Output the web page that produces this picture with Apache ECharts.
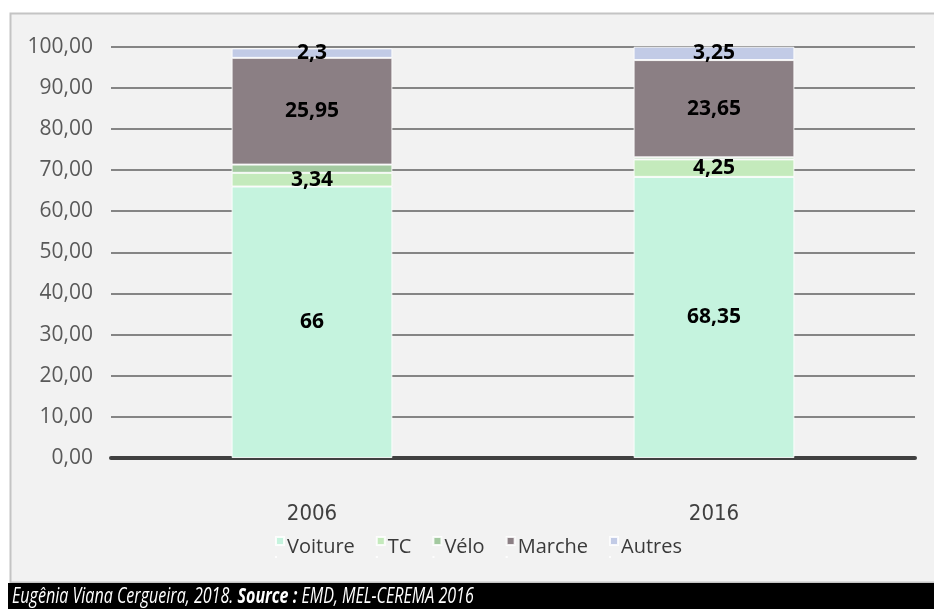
<!DOCTYPE html>
<html>
<head>
<meta charset="utf-8">
<script src="https://cdn.jsdelivr.net/npm/echarts@6/dist/echarts.min.js"></script>
<style>
  html, body { margin: 0; padding: 0; background: #ffffff; }
  #chart { width: 934px; height: 609px; }
</style>
</head>
<body>
<div id="chart"></div>
<script>
// Modal share (%) by year
const categories = ['2006', '2016'];
const voiture = [66, 68.35];
const tc = [3.34, 4.25];
const velo = [2.0, 0.5];
const marche = [25.95, 23.65];
const autres = [2.3, 3.25];

const seriesNames = ['Voiture', 'TC', 'Vélo', 'Marche', 'Autres'];
const seriesValues = [voiture, tc, velo, marche, autres];
const seriesColors = ['#c5f3de', '#c4eabc', '#a3c9a0', '#8b7f84', '#c2cbe6'];
const labelled = [true, true, false, true, true];

const yMin = 0, yMax = 100, yStep = 10;

const fmtComma = v => String(v).replace('.', ',');
const condensed = "'DejaVu Sans Condensed', 'Noto Sans', sans-serif";

const chart = echarts.init(document.getElementById('chart'), null, { renderer: 'canvas' });

const series = seriesNames.map((name, i) => ({
  name,
  type: 'bar',
  stack: 'total',
  barWidth: '40%',
  data: seriesValues[i],
  itemStyle: { color: seriesColors[i], borderColor: 'rgba(255,255,255,0.85)', borderWidth: 1 },
  label: {
    show: labelled[i],
    position: 'inside',
    formatter: p => fmtComma(p.value),
    color: '#000000',
    fontFamily: 'Open Sans',
    fontWeight: 'bold',
    fontSize: 21
  },
  emphasis: { disabled: true }
}));

// square at the top of a taller icon box; the tiny sliver at the bottom only stretches the box
const legendIcon = 'path://M0,0h10v10h-10z M0,24.9h0.05v0.1h-0.05z';

const option = {
  backgroundColor: '#ffffff',
  animation: false,
  graphic: [
    {
      type: 'rect', z: -10, silent: true,
      shape: { x: 10.5, y: 13.5, width: 940, height: 569 },
      style: { fill: '#f2f2f2', stroke: '#c4c4c4', lineWidth: 2 }
    },
    {
      type: 'rect', z: -9, silent: true,
      shape: { x: 8, y: 583, width: 940, height: 30 },
      style: { fill: '#000000' }
    },
    {
      type: 'text', z: 10, silent: true,
      x: 12, y: 597, scaleX: 0.73,
      style: {
        text: '{a|Eugênia Viana Cergueira, 2018. }{b|Source :}{a| EMD, MEL-CEREMA 2016}',
        verticalAlign: 'middle',
        rich: {
          a: { fill: '#ffffff', fontFamily: 'Open Sans', fontStyle: 'italic', fontSize: 22 },
          b: { fill: '#ffffff', fontFamily: 'Open Sans', fontStyle: 'italic', fontWeight: 'bold', fontSize: 22 }
        }
      }
    }
  ],
  grid: { left: 111, right: 19, top: 46.7, bottom: 151 },
  legend: {
    data: seriesNames,
    left: 270,
    top: 531,
    itemGap: 21,
    itemWidth: 8,
    itemHeight: 20,
    icon: legendIcon,
    textStyle: { color: '#3a3a3a', fontFamily: 'Open Sans', fontSize: 20, padding: [0, 0, 0, -2] }
  },
  xAxis: {
    type: 'category',
    data: categories,
    axisLine: { show: true, lineStyle: { color: '#404040', width: 4 } },
    axisTick: { show: false },
    axisLabel: { color: '#404040', fontFamily: condensed, fontSize: 22, margin: 45 }
  },
  yAxis: {
    type: 'value',
    min: yMin, max: yMax, interval: yStep,
    axisLine: { show: false },
    axisTick: { show: false },
    axisLabel: {
      color: '#595959', fontFamily: 'Open Sans', fontSize: 21, margin: 18,
      formatter: v => v.toFixed(2).replace('.', ',')
    },
    splitLine: { show: true, lineStyle: { color: '#858585', width: 2 } }
  },
  series
};

chart.setOption(option);
</script>
</body>
</html>
